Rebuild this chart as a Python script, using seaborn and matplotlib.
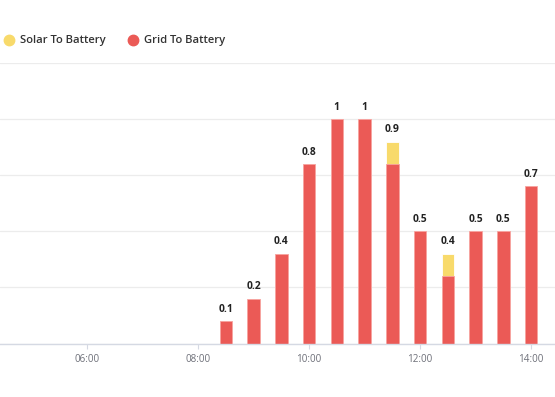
import pandas as pd
import numpy as np
import matplotlib.pyplot as plt
import seaborn as sns
from matplotlib.lines import Line2D

sns.set_theme(style="white")
plt.rcParams['font.family'] = ['Open Sans', 'DejaVu Sans']

TIMES = ["08:30", "09:00", "09:30", "10:00", "10:30", "11:00",
         "11:30", "12:00", "12:30", "13:00", "13:30", "14:00"]
GRID_TO_BATTERY = [0.1, 0.2, 0.4, 0.8, 1.0, 1.0, 0.8, 0.5, 0.3, 0.5, 0.5, 0.7]
SOLAR_TO_BATTERY = [0, 0, 0, 0, 0, 0, 0.1, 0, 0.1, 0, 0, 0]
TICK_HOURS = [6, 8, 10, 12, 14]

RED = "#eb5a56"
YELLOW = "#f8da6b"

df = pd.DataFrame({"time": TIMES, "grid": GRID_TO_BATTERY, "solar": SOLAR_TO_BATTERY})
df["hour"] = df["time"].apply(lambda t: int(t[:2]) + int(t[3:]) / 60)
df["total"] = df["grid"] + df["solar"]

fig = plt.figure(figsize=(5.55, 3.97), dpi=100)
ax = fig.add_axes([0, (397 - 343.5) / 397, 1, (343.5 - 63) / 397])

# total (solar on top) first, then grid over it
sns.barplot(data=df, x="hour", y="total", native_scale=True, width=0.45,
            color=YELLOW, saturation=1, edgecolor="white", linewidth=0.6, ax=ax)
sns.barplot(data=df, x="hour", y="grid", native_scale=True, width=0.45,
            color=RED, saturation=1, edgecolor="#f7a3a0", linewidth=0.6, ax=ax)

for h, tot in zip(df["hour"], df["total"]):
    ax.annotate(f"{tot:g}", (h, tot), xytext=(0, 4.5), textcoords="offset points",
                ha="center", va="bottom", fontsize=7.4, fontweight="bold", color="#222222")

ax.set_xlim(4.432, 14.432)
ax.set_ylim(0, 1.25)
ax.set_yticks(np.arange(0, 1.26, 0.25))
ax.set_yticklabels([])
ax.yaxis.grid(True, color="#ececec", linewidth=0.9)
ax.set_axisbelow(True)
ax.set_xticks(TICK_HOURS)
ax.set_xticklabels([f"{h:02d}:00" for h in TICK_HOURS], fontsize=7.1, color="#6e7079")
ax.tick_params(axis="x", length=3.5, width=0.8, color="#d5d9e3", pad=4, bottom=True)
ax.tick_params(axis="y", length=0)
ax.set_xlabel("")
ax.set_ylabel("")
for side in ["top", "left", "right"]:
    ax.spines[side].set_visible(False)
ax.spines["bottom"].set_color("#d5d9e3")
ax.spines["bottom"].set_linewidth(1)

handles = [
    Line2D([], [], marker="o", linestyle="", markersize=7.5, color=YELLOW),
    Line2D([], [], marker="o", linestyle="", markersize=7.5, color=RED),
]
fig.legend(handles, ["Solar To Battery", "Grid To Battery"], loc="center left",
           bbox_to_anchor=(-0.014, 1 - 41 / 397), ncol=2, frameon=False,
           handletextpad=0.4, columnspacing=1.8, handlelength=1.2,
           prop={"size": 8.1, "weight": "semibold"}, labelcolor="#333333")

fig.savefig("out.png", dpi=100)
